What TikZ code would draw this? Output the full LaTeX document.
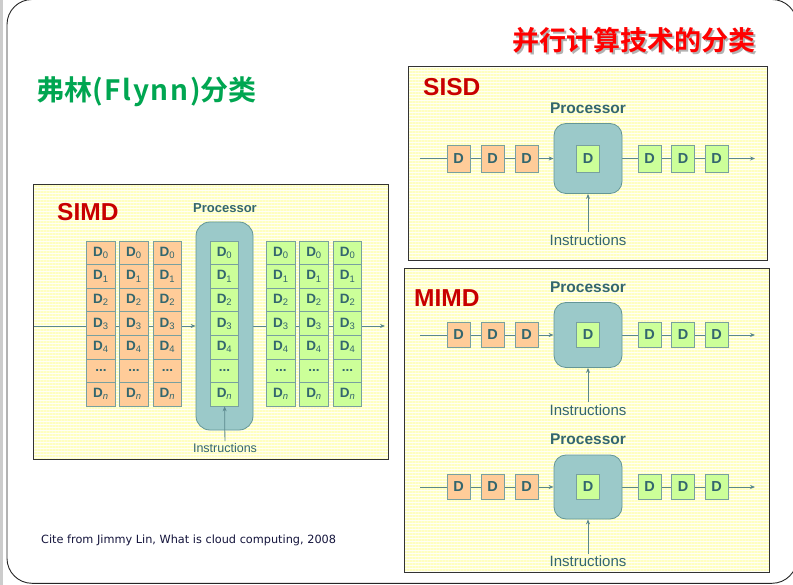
\documentclass[tikz,border=0pt]{standalone}
\usepackage{fontspec}
\setmainfont{Liberation Sans}
\newfontfamily\cjkfont{Noto Sans CJK SC}[BoldFont={* Bold}]
\newfontfamily\citefont{DejaVu Sans}
\usetikzlibrary{arrows.meta,patterns.meta,calc}

\definecolor{titlegreen}{RGB}{0,166,81}
\definecolor{titlered}{RGB}{255,0,0}
\definecolor{tagred}{RGB}{200,0,0}
\definecolor{inktext}{RGB}{51,102,110}
\definecolor{procfill}{RGB}{155,201,201}
\definecolor{procdraw}{RGB}{100,150,150}
\definecolor{infill}{RGB}{255,204,153}
\definecolor{outfill}{RGB}{204,255,153}
\definecolor{celldraw}{RGB}{120,160,160}
\definecolor{flowline}{RGB}{90,135,140}
\definecolor{panelbase}{RGB}{255,255,246}
\definecolor{panelstripe}{RGB}{255,255,192}
\definecolor{citeink}{RGB}{20,20,60}

\pgfdeclarelayer{panels}
\pgfdeclarelayer{lines}
\pgfsetlayers{panels,lines,main}

\tikzset{
  panel/.style={preaction={fill=panelbase},
    pattern={Lines[angle=0,distance=3pt,line width=1.1pt]}, pattern color=panelstripe,
    draw=black!80, line width=1pt},
  tag/.style={font=\bfseries\fontsize{24.5}{26}\selectfont, text=tagred, inner sep=0pt},
  proclabel/.style={font=\bfseries\fontsize{15.5}{17}\selectfont, text=inktext, inner sep=0pt},
  instr/.style={font=\fontsize{15}{17}\selectfont, text=inktext, inner sep=2pt},
  proc/.style={draw=procdraw, fill=procfill, rounded corners=12pt, line width=0.8pt},
  dcell/.style={draw=celldraw, line width=0.6pt, minimum width=23pt, minimum height=25pt,
    inner sep=0pt, font=\bfseries\fontsize{14.5}{16}\selectfont, text=inktext},
  incell/.style={dcell, fill=infill},
  outcell/.style={dcell, fill=outfill},
  vcell/.style={minimum width=28.5pt, minimum height=23.6pt, font=\bfseries\fontsize{13.5}{15}\selectfont},
  flow/.style={draw=flowline, line width=0.8pt},
  flowarrow/.style={flow, -{Stealth[length=5pt,width=4pt]}},
}

% D with a light-weight index
\newcommand{\dsub}[1]{D\textsubscript{\mdseries #1}}
\newcommand{\vlabel}[1]{\ifcase#1 \dsub{0}\or\dsub{1}\or\dsub{2}\or\dsub{3}\or\dsub{4}\or ...\or\dsub{\itshape n}\fi}

% one data stream through a single processor:
% #1 name prefix, #2 line y, #3 processor height, #4 cell height, #5 gap below processor to label
\newcommand{\pipeRow}[5]{%
  \coordinate (#1start) at (420,#2);
  \node[incell, minimum height=#4] (#1i1) at (458.5,#2) {D};
  \node[incell, minimum height=#4] (#1i2) at (492.5,#2) {D};
  \node[incell, minimum height=#4] (#1i3) at (526.5,#2) {D};
  \node[proc, minimum width=68pt, minimum height=#3] (#1proc) at (588,#2) {};
  \node[outcell, minimum height=#4] (#1core) at (588,#2) {D};
  \node[outcell, minimum height=#4] (#1o1) at (649.5,#2) {D};
  \node[outcell, minimum height=#4] (#1o2) at (683,#2) {D};
  \node[outcell, minimum height=#4] (#1o3) at (716.5,#2) {D};
  \coordinate (#1end) at (755,#2);
  \node[proclabel] (#1plabel) at ($(#1proc.north)+(0,-15)$) {Processor};
  \node[instr] (#1ilabel) at ($(#1proc.south)+(0,#5)$) {Instructions};
  \begin{pgfonlayer}{lines}
    \draw[flow] (#1start) -- (#1i3);
    \draw[flowarrow] (#1i3) -- (#1proc);
    \draw[flowarrow] (#1proc) -- (#1end);
  \end{pgfonlayer}
  \draw[flowarrow] (#1ilabel) -- (#1proc);
}

\begin{document}
\begin{tikzpicture}[x=1pt,y=-1pt]
\useasboundingbox (0,0) rectangle (793,585);

% page, frame and striped panels at the bottom
\begin{pgfonlayer}{panels}
  \fill[white] (0,0) rectangle (793,585);
  \fill[black!20] (0,0) rectangle (2.5,585);
  \draw[black!85, line width=0.9pt, rounded corners=25pt] (7,-0.5) rectangle (797,583.3);
  \path[panel] (408,67) rectangle (767,260.5);
  \path[panel] (404,268.5) rectangle (769,572);
  \path[panel] (33,185) rectangle (388,459);
\end{pgfonlayer}

% headings
\node[anchor=west, inner sep=0pt, text=titlegreen,
  font=\cjkfont\bfseries\fontsize{28}{30}\selectfont] (flynn) at (36,92)
  {弗林{\addfontfeature{LetterSpace=6}(Flynn)}分类};
\node[inner sep=0pt, text=black!30, font=\cjkfont\bfseries\fontsize{27}{29}\selectfont]
  (topicshadow) at (635.5,42) {并行计算技术的分类};
\node[inner sep=0pt, text=titlered, font=\cjkfont\bfseries\fontsize{27}{29}\selectfont]
  (topic) at (633.5,40) {并行计算技术的分类};

% SISD
\node[tag, anchor=west] (sisd) at (423,87) {SISD};
\pipeRow{s}{158.5}{70pt}{27pt}{46}

% MIMD
\node[tag, anchor=west] (mimd) at (414,298) {MIMD};
\pipeRow{ma}{335}{65pt}{25pt}{42}
\pipeRow{mb}{487}{64pt}{25pt}{42}

% SIMD
\node[tag, anchor=west] (simd) at (57,212) {SIMD};
\node[proclabel, font=\bfseries\fontsize{13}{15}\selectfont] (vplabel) at (225,208) {Processor};
\node[proc, rounded corners=14pt, minimum width=57pt, minimum height=208pt] (vproc) at (224.5,326) {};
\foreach \c/\x in {1/101,2/134,3/167.5}{
  \foreach \r in {0,...,6}{
    \node[incell, vcell] (vl\c r\r) at (\x,{252.8+23.57*\r}) {\vlabel{\r}};
  }
}
\foreach \r in {0,...,6}{
  \node[outcell, vcell] (vcr\r) at (224.5,{252.8+23.57*\r}) {\vlabel{\r}};
}
\foreach \c/\x in {1/281,2/314,3/347.5}{
  \foreach \r in {0,...,6}{
    \node[outcell, vcell] (vr\c r\r) at (\x,{252.8+23.57*\r}) {\vlabel{\r}};
  }
}
\coordinate (vstart) at (33.5,326);
\coordinate (vend) at (385,326);
\begin{pgfonlayer}{lines}
  \draw[flowarrow] (vstart) -- (vproc);
  \draw[flowarrow] (vproc) -- (vend);
\end{pgfonlayer}
\node[instr, font=\fontsize{12.5}{14}\selectfont] (vilabel) at (225,448) {Instructions};
\draw[flowarrow] (vilabel) -- (vcr6);

% source note
\node[anchor=west, inner sep=0pt, text=citeink, font=\citefont\fontsize{11.3}{13}\selectfont]
  (cite) at (41,540) {Cite from Jimmy Lin, What is cloud computing, 2008};
\end{tikzpicture}
\end{document}
